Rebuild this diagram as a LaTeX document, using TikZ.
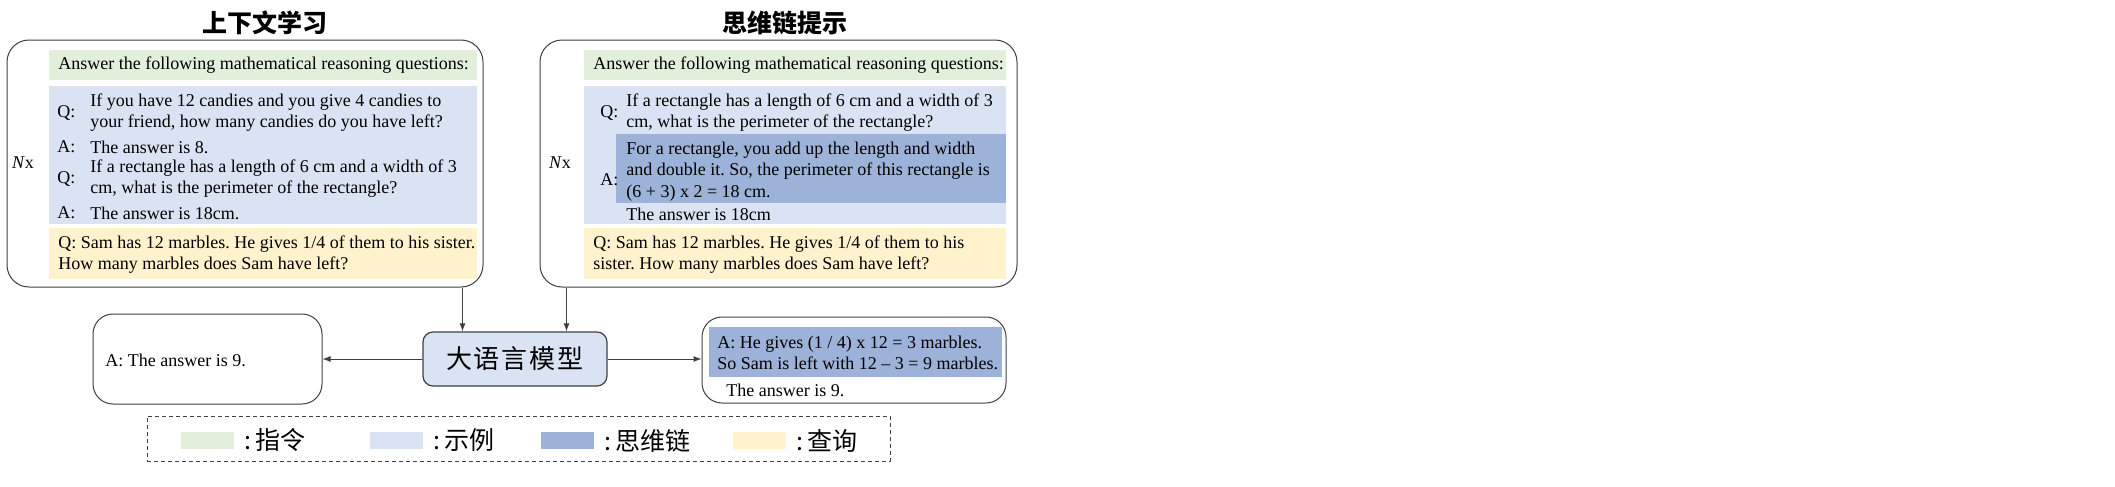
\documentclass[tikz,border=0pt]{standalone}
\usepackage{fontspec}
\setmainfont{Liberation Serif}
\newfontfamily\cjk{Noto Sans CJK SC}
\usepackage{xcolor}
\usetikzlibrary{arrows.meta, positioning, fit, calc}
\frenchspacing

\definecolor{instrgreen}{HTML}{E2EFDA}
\definecolor{demoblue}{HTML}{DAE3F3}
\definecolor{cotblue}{HTML}{9DB2D8}
\definecolor{queryyellow}{HTML}{FFF2CC}
\definecolor{edgegray}{HTML}{404040}

\begin{document}
\begin{tikzpicture}[x=0.5pt, y=-0.5pt,
  panel/.style={draw=edgegray, line width=0.5pt, rounded corners=11pt, inner sep=0pt},
  band/.style={inner sep=0pt, outer sep=0pt},
  body/.style={font=\fontsize{9}{10.75}\selectfont, anchor=west, align=left, inner sep=0pt},
  lbl/.style={font=\fontsize{9}{10.75}\selectfont, anchor=west, inner sep=0pt},
  title/.style={font=\cjk\bfseries\fontsize{12.5}{14}\selectfont},
  arr/.style={edgegray, line width=0.5pt, -{Latex[length=4pt,width=3pt]}},
  swatch/.style={minimum width=26.5pt, minimum height=8.5pt, inner sep=0pt},
  key/.style={font=\cjk\fontsize{12.5}{14}\selectfont, anchor=west, inner sep=0pt}
]
\useasboundingbox (0,0) rectangle (2115,487);
\fill[white] (0,0) rectangle (1176,487);

% Left panel: in-context learning
\node[title] (icl-title) at (265,23) {上下文学习};
\node[band, fill=instrgreen, fit={(49,50) (477,80)}] (icl-instr) {};
\node[band, fill=demoblue, fit={(49,86) (477,224)}] (icl-demo) {};
\node[band, fill=queryyellow, fit={(49,228) (477,279)}] (icl-query) {};
\node[panel, fit={(7,40) (483,287)}] (icl) {};
\node[lbl] (icl-instr-t) at (58,65) {Answer the following mathematical reasoning questions:};
\node[lbl] (icl-q1) at (57,112.5) {Q:};
\node[body] (icl-q1t) at (90,112.5) {If you have 12 candies and you give 4 candies to\\your friend, how many candies do you have left?};
\node[lbl] (icl-a1) at (57,147) {A:};
\node[lbl] (icl-a1t) at (90,147) {The answer is 8.};
\node[lbl] (icl-q2) at (57,178.5) {Q:};
\node[body] (icl-q2t) at (90,178.5) {If a rectangle has a length of 6 cm and a width of 3\\cm, what is the perimeter of the rectangle?};
\node[lbl] (icl-a2) at (57,213) {A:};
\node[lbl] (icl-a2t) at (90,213) {The answer is 18cm.};
\node[body] (icl-query-t) at (58,254.5) {Q: Sam has 12 marbles. He gives 1/4 of them to his sister.\\How many marbles does Sam have left?};
\node[font=\fontsize{9}{10.75}\selectfont, inner sep=0pt] (icl-n) at (23,163) {\textit{N}x};

% Right panel: chain-of-thought prompting
\node[title] (cot-title) at (785,23) {思维链提示};
\node[band, fill=instrgreen, fit={(584,50) (1006,80)}] (cot-instr) {};
\node[band, fill=demoblue, fit={(584,86) (1006,224)}] (cot-demo) {};
\node[band, fill=cotblue, fit={(616,134) (1006,203)}] (cot-chain) {};
\node[band, fill=queryyellow, fit={(584,228) (1006,279)}] (cot-query) {};
\node[panel, fit={(540,40) (1017,287)}] (cot) {};
\node[lbl] (cot-instr-t) at (593,65) {Answer the following mathematical reasoning questions:};
\node[lbl] (cot-q) at (600,112.5) {Q:};
\node[body] (cot-qt) at (626,112.5) {If a rectangle has a length of 6 cm and a width of 3\\cm, what is the perimeter of the rectangle?};
\node[lbl] (cot-a) at (600,180) {A:};
\node[body] (cot-at) at (626,171.5) {For a rectangle, you add up the length and width\\and double it. So, the perimeter of this rectangle is\\(6 + 3) x 2 = 18 cm.};
\node[lbl] (cot-ans) at (626,214) {The answer is 18cm};
\node[body] (cot-query-t) at (593,254.5) {Q: Sam has 12 marbles. He gives 1/4 of them to his\\sister. How many marbles does Sam have left?};
\node[font=\fontsize{9}{10.75}\selectfont, inner sep=0pt] (cot-n) at (560,163) {\textit{N}x};

% Model and outputs
\node[draw=edgegray, fill=demoblue, line width=0.6pt, rounded corners=5pt, minimum width=92pt, minimum height=27pt, font=\cjk\fontsize{13}{15}\selectfont] (llm) at (515,359) {大\kern1pt 语\kern1pt 言\kern1pt 模\kern1pt 型};
\node[panel, rounded corners=10pt, minimum width=114.5pt, minimum height=45pt] (ansicl) at (207.5,359) {};
\node[lbl] (ansicl-t) at (105,360) {A: The answer is 9.};
\node[band, fill=cotblue, fit={(709,327) (1002,377)}] (anscot-chain) {};
\node[panel, rounded corners=10pt, minimum width=152pt, minimum height=43pt] (anscot) at (854,360) {};
\node[body] (anscot-t) at (717,353) {A: He gives (1 / 4) x 12 = 3 marbles.\\So Sam is left with 12 -- 3 = 9 marbles.};
\node[lbl] (anscot-ans) at (726,390) {The answer is 9.};

\coordinate (icl-out) at ([xshift=-10.5pt]icl.south east);
\coordinate (cot-out) at ([xshift=13.5pt]cot.south west);
\draw[arr] (icl-out) -- (icl-out |- llm.north);
\draw[arr] (cot-out) -- (cot-out |- llm.north);
\draw[arr] (llm.west) -- (ansicl.east);
\draw[arr] (llm.east) -- (llm.east -| anscot.west);

% Legend
\node[draw=edgegray, line width=0.5pt, dash pattern=on 2pt off 1.5pt, inner sep=0pt, fit={(147,416) (890,461)}] (legend) {};
\node[swatch, fill=instrgreen] (key-instr) at (207,440.5) {};
\node[key, right=5pt of key-instr] (key-instr-t) {:\hspace{2pt}指令};
\node[swatch, fill=demoblue] (key-demo) at (396.5,440.5) {};
\node[key, right=5pt of key-demo] (key-demo-t) {:\hspace{2pt}示例};
\node[swatch, fill=cotblue] (key-chain) at (567.5,440.5) {};
\node[key, right=5pt of key-chain] (key-chain-t) {:\hspace{2pt}思维链};
\node[swatch, fill=queryyellow] (key-query) at (759,440.5) {};
\node[key, right=5pt of key-query] (key-query-t) {:\hspace{2pt}查询};
\end{tikzpicture}
\end{document}
